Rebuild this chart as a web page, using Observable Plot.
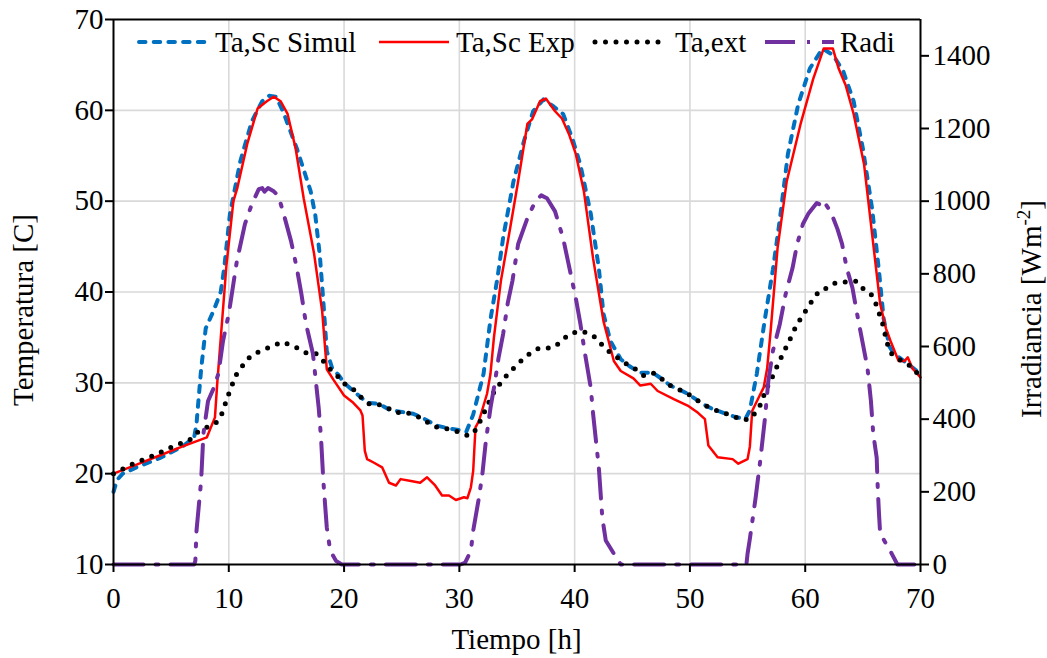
<!DOCTYPE html>
<html><head><meta charset="utf-8">
<script src="https://cdn.jsdelivr.net/npm/d3@7"></script>
<script src="https://cdn.jsdelivr.net/npm/@observablehq/plot@0.6"></script>
<style>
body{margin:0;background:#fff;}
svg{display:block}
svg, svg text {font-family: 'Liberation Serif', 'Times New Roman', serif !important;}
</style>
</head><body><div id="chart"></div>
<script>
// ---- tick values ----
const xTicks = [0, 10, 20, 30, 40, 50, 60, 70];
const yTicks = [10, 20, 30, 40, 50, 60, 70];
const irrTicks = [0, 200, 400, 600, 800, 1000, 1200, 1400];
const irrMax = 1500; // right axis top (aligned with 70 C)

// ---- series [time h, value] ----
const simul = [[0,18.0],[0.3,19.3],[0.8,20.0],[2,20.7],[4,21.7],[6,23.0],[7.0,24.0],[7.2,25.5],[7.6,31.5],[8.0,36.0],[8.7,38.0],[9.3,40.0],[9.6,42.6],[10.1,48.6],[11.0,54.4],[12.0,58.8],[12.9,61.0],[13.5,61.6],[14.1,61.5],[14.7,59.9],[15.9,55.8],[17.1,51.1],[17.5,48.5],[17.9,44.0],[18.2,39.0],[18.5,33.5],[19.0,31.5],[19.5,30.9],[20.0,30.0],[21.0,28.9],[22.0,27.8],[23.0,27.7],[24.0,27.0],[25.0,26.8],[26.0,26.6],[27.0,26.0],[28.0,25.3],[29.0,25.0],[30.0,24.8],[30.6,24.6],[31.2,26.5],[32.1,31.0],[32.7,37.0],[33.3,41.5],[33.8,46.0],[34.7,52.2],[35.6,56.6],[36.4,59.9],[37.3,61.2],[38.2,60.4],[39.0,59.6],[39.8,56.9],[40.5,54.0],[41.4,48.6],[42.1,42.6],[42.5,37.6],[43.1,34.6],[44.0,32.6],[44.8,31.8],[45.7,31.1],[46.8,31.1],[47.6,30.4],[48.3,29.7],[49.0,29.3],[49.8,28.8],[50.5,28.2],[51.2,27.6],[52.0,27.1],[52.9,26.7],[53.8,26.3],[54.8,26.0],[55.2,27.0],[55.8,31.0],[56.5,37.0],[57.2,42.5],[57.8,48.0],[58.5,55.2],[59.4,60.7],[60.4,64.6],[61.5,66.8],[62.4,66.1],[63.3,64.3],[64.2,61.0],[65.0,55.8],[65.8,49.2],[66.4,42.3],[66.8,37.1],[67.3,34.0],[67.7,33.2],[68.9,32.1],[70,31.0]];

const exper = [[0,20.0],[2,21.0],[4,22.0],[6,23.0],[8.1,24.0],[8.8,26.2],[9.0,30.0],[9.1,31.6],[9.8,43.0],[10.4,50.0],[10.75,51.5],[11.6,56.3],[12.5,60.2],[13.3,61.0],[13.9,61.5],[14.5,61.0],[15.1,59.6],[15.8,55.8],[16.5,50.3],[17.4,44.2],[18.1,37.9],[18.5,31.5],[19.1,30.3],[20.0,28.6],[20.8,27.8],[21.4,27.0],[21.6,26.4],[21.8,22.5],[22.0,21.6],[22.6,21.2],[23.3,20.7],[23.9,19.0],[24.5,18.7],[24.9,19.4],[25.8,19.2],[26.6,19.0],[27.2,19.6],[27.9,18.7],[28.5,17.6],[29.1,17.6],[29.7,17.1],[30.4,17.4],[30.7,17.3],[31.0,18.5],[31.2,20.3],[31.4,25.1],[31.7,25.8],[32.4,28.8],[32.7,31.0],[33.0,35.0],[33.6,41.2],[34.4,47.0],[35.1,52.2],[35.9,58.5],[36.3,59.0],[37.0,61.0],[37.5,61.3],[38.3,59.9],[38.9,59.1],[39.5,57.4],[40.1,55.2],[40.8,51.1],[41.6,43.7],[42.5,36.8],[43.4,32.4],[44.0,31.3],[45.1,30.5],[45.7,29.7],[46.6,29.9],[47.2,29.1],[48.6,28.2],[49.8,27.5],[50.7,26.7],[51.3,26.0],[51.6,23.1],[52.4,21.8],[53.7,21.6],[54.2,21.1],[55.0,21.6],[55.2,23.0],[55.4,26.9],[55.7,27.7],[56.4,29.5],[56.7,31.6],[57.0,35.7],[57.6,44.8],[58.4,52.2],[59.6,58.5],[60.7,63.5],[61.6,66.8],[62.4,66.8],[62.9,64.6],[63.5,62.8],[64.2,59.6],[65.1,54.1],[65.9,45.3],[66.5,38.7],[67.0,36.0],[67.4,34.6],[68.1,32.4],[68.6,32.4],[68.9,32.8],[69.3,31.6],[70,30.6]];

const ext = [[0,20.0],[1.7,21.1],[3.5,22.0],[5,22.9],[6.7,23.8],[7.4,24.7],[8.1,25.1],[8.9,25.6],[9.4,26.6],[10,28.8],[10.6,30.8],[11.6,32.6],[12.4,33.3],[13.1,33.7],[13.9,34.1],[14.6,34.5],[15.3,34.2],[16,33.8],[16.7,33.3],[17.5,33.3],[18.2,32.4],[18.8,31.5],[19.4,30.8],[19.9,30.0],[20.8,29.3],[21.4,28.5],[22.1,27.7],[22.8,27.7],[23.7,27.3],[24.5,26.7],[25.2,26.8],[26.0,26.5],[26.9,26.0],[27.6,25.3],[28.4,25.0],[29.2,24.9],[29.9,24.6],[30.7,24.2],[31.2,24.4],[31.7,25.5],[32.1,26.6],[32.5,27.7],[32.9,28.8],[33.3,29.5],[33.8,30.4],[34.4,31.2],[35.0,32.0],[35.6,32.7],[36.2,33.3],[36.9,33.8],[37.6,33.8],[38.3,34.0],[39.0,34.8],[39.6,35.4],[40.5,35.7],[41.1,35.5],[41.8,35.0],[42.5,34.0],[43.1,33.3],[43.8,32.7],[44.6,32.0],[45.3,31.5],[46.0,30.8],[46.8,31.1],[47.6,30.4],[48.3,29.7],[49.0,29.3],[49.8,28.8],[50.5,28.2],[51.2,27.6],[52.0,27.1],[52.9,26.7],[53.8,26.3],[54.5,25.9],[55.2,26.0],[55.8,26.9],[56.3,28.0],[56.5,29.1],[57.0,30.2],[57.3,31.1],[57.7,32.2],[58.1,33.3],[58.5,34.3],[58.9,35.4],[59.3,36.5],[59.8,37.4],[60.2,38.3],[60.7,39.2],[61.2,40.1],[61.8,40.4],[62.4,40.9],[63.0,41.1],[63.6,41.1],[64.4,41.2],[65.0,40.4],[65.7,39.8],[66.1,38.8],[66.4,37.7],[66.7,36.6],[66.9,35.5],[67.1,34.4],[67.4,33.3],[68.1,32.6],[68.9,32.1],[69.5,31.3],[70,30.8]];

const radi = [[0,0],[7.0,0],[7.1,10],[7.2,93],[7.6,230],[7.8,360],[8.2,450],[8.7,486],[9.1,525],[9.5,615],[10,690],[10.7,835],[11.4,937],[12.0,992],[12.6,1033],[12.9,1036],[13.1,1026],[13.4,1036],[13.9,1027],[14.3,1014],[14.7,972],[15.4,890],[15.9,816],[16.3,744],[16.7,662],[17.3,580],[17.8,431],[18.0,349],[18.2,231],[18.5,102],[18.8,38],[19.3,10],[19.8,0],[30.1,0],[30.5,5],[31.0,38],[31.2,93],[31.7,184],[32.0,250],[32.3,340],[32.7,431],[33.1,505],[33.4,569],[33.8,635],[34.2,720],[34.6,780],[35.1,882],[35.9,953],[36.6,1000],[37.1,1016],[37.6,1008],[38.3,972],[39.0,898],[39.6,808],[40.1,733],[40.5,662],[40.9,580],[41.4,486],[41.6,415],[42.1,266],[42.4,129],[42.7,66],[43.3,35],[44.0,0],[54.9,0],[55.0,30],[55.2,71],[55.7,184],[56.1,286],[56.5,400],[56.8,505],[57.2,588],[57.8,662],[58.3,744],[58.9,816],[59.3,882],[59.8,937],[60.3,967],[61.0,995],[61.4,989],[61.6,1000],[62.0,981],[62.3,964],[62.8,923],[63.2,882],[63.6,816],[64.1,761],[64.5,690],[65.0,607],[65.4,541],[65.7,450],[65.9,360],[66.2,294],[66.3,203],[66.4,140],[66.5,85],[67.0,58],[67.5,30],[68.0,0],[70,0]];

// ---- styles ----
const FONT = "'Liberation Serif','Times New Roman',serif";
const sBlue = {stroke:"#0070C0", strokeWidth:4, strokeDasharray:"6.5,8.2", strokeLinecap:"round"};
const sRed = {stroke:"#FF0000", strokeWidth:2.5};
const sBlack = {stroke:"#000000", strokeWidth:5, strokeDasharray:"0,10.5", strokeLinecap:"round"};
const sPurple = {stroke:"#7030A0", strokeWidth:4, strokeDasharray:"30,12,3,12"};

// irradiance mapped onto the left scale (0..1500 -> 10..70)
const irrToY = v => 10 + v * 60 / irrMax;

const chart = Plot.plot({
  width: 1047, height: 658,
  marginLeft: 113, marginRight: 127, marginTop: 19, marginBottom: 94,
  style: {fontFamily: FONT, fontSize: "29px", color: "#000", background: "#fff", overflow: "visible"},
  x: {domain: [0, 70]},
  y: {domain: [10, 70]},
  marks: [
    Plot.gridX(xTicks.slice(1, -1), {stroke: "#d9d9d9", strokeOpacity: 1, strokeWidth: 1.6}),
    Plot.gridY(yTicks.slice(1, -1), {stroke: "#d9d9d9", strokeOpacity: 1, strokeWidth: 1.6}),
    Plot.line(simul, {x: d => d[0], y: d => d[1], ...sBlue}),
    Plot.line(exper, {x: d => d[0], y: d => d[1], ...sRed}),
    Plot.line(ext, {x: d => d[0], y: d => d[1], ...sBlack}),
    Plot.line(radi, {x: d => d[0], y: d => irrToY(d[1]), ...sPurple}),
    Plot.ruleX([0, 70], {stroke: "#000", strokeWidth: 2}),
    Plot.ruleY([10, 70], {stroke: "#000", strokeWidth: 2}),
    Plot.axisX(xTicks, {label: null, tickSize: 8, tickPadding: 15, strokeWidth: 2}),
    Plot.axisY(yTicks, {anchor: "left", label: null, tickSize: 8, tickPadding: 2, strokeWidth: 2}),
    Plot.axisY(irrTicks.map(irrToY), {anchor: "right", label: null, tickSize: 8, tickPadding: 4, strokeWidth: 2,
      tickFormat: v => String(Math.round((v - 10) * irrMax / 60))})
  ]
});
document.getElementById("chart").appendChild(chart);

// ---- legend & axis titles ----
const svg = d3.select(chart);
const legend = [
  {label: "Ta,Sc Simul", x0: 139, x1: 209, tx: 215, s: sBlue},
  {label: "Ta,Sc Exp", x0: 379, x1: 449, tx: 456, s: sRed},
  {label: "Ta,ext", x0: 595, x1: 667, tx: 675, s: sBlack},
  {label: "Radi", x0: 765, x1: 834, tx: 840, s: sPurple}
];
const lg = svg.append("g");
legend.forEach(it => {
  const l = lg.append("line").attr("x1", it.x0).attr("x2", it.x1).attr("y1", 42).attr("y2", 42)
    .attr("fill", "none").attr("stroke", it.s.stroke).attr("stroke-width", it.s.strokeWidth);
  if (it.s.strokeDasharray) l.attr("stroke-dasharray", it.s.strokeDasharray);
  if (it.s.strokeLinecap) l.attr("stroke-linecap", it.s.strokeLinecap);
  lg.append("text").attr("x", it.tx).attr("y", 52).attr("text-anchor", "start")
    .attr("font-family", FONT).attr("font-size", 29).attr("fill", "#000").text(it.label);
});
svg.append("text").attr("x", 516.5).attr("y", 649).attr("text-anchor", "middle")
  .attr("font-family", FONT).attr("font-size", 29).attr("fill", "#000").text("Tiempo [h]");
svg.append("text").attr("transform", "translate(33,310) rotate(-90)").attr("text-anchor", "middle")
  .attr("font-family", FONT).attr("font-size", 29).attr("fill", "#000").text("Temperatura [C]");
const rt = svg.append("text").attr("transform", "translate(1041,309) rotate(-90)").attr("text-anchor", "middle")
  .attr("font-family", FONT).attr("font-size", 29).attr("fill", "#000");
rt.append("tspan").text("Irradiancia [Wm");
rt.append("tspan").attr("font-size", 19).attr("dy", -11).text("-2");
rt.append("tspan").attr("dy", 11).text("]");
</script>
</body></html>
